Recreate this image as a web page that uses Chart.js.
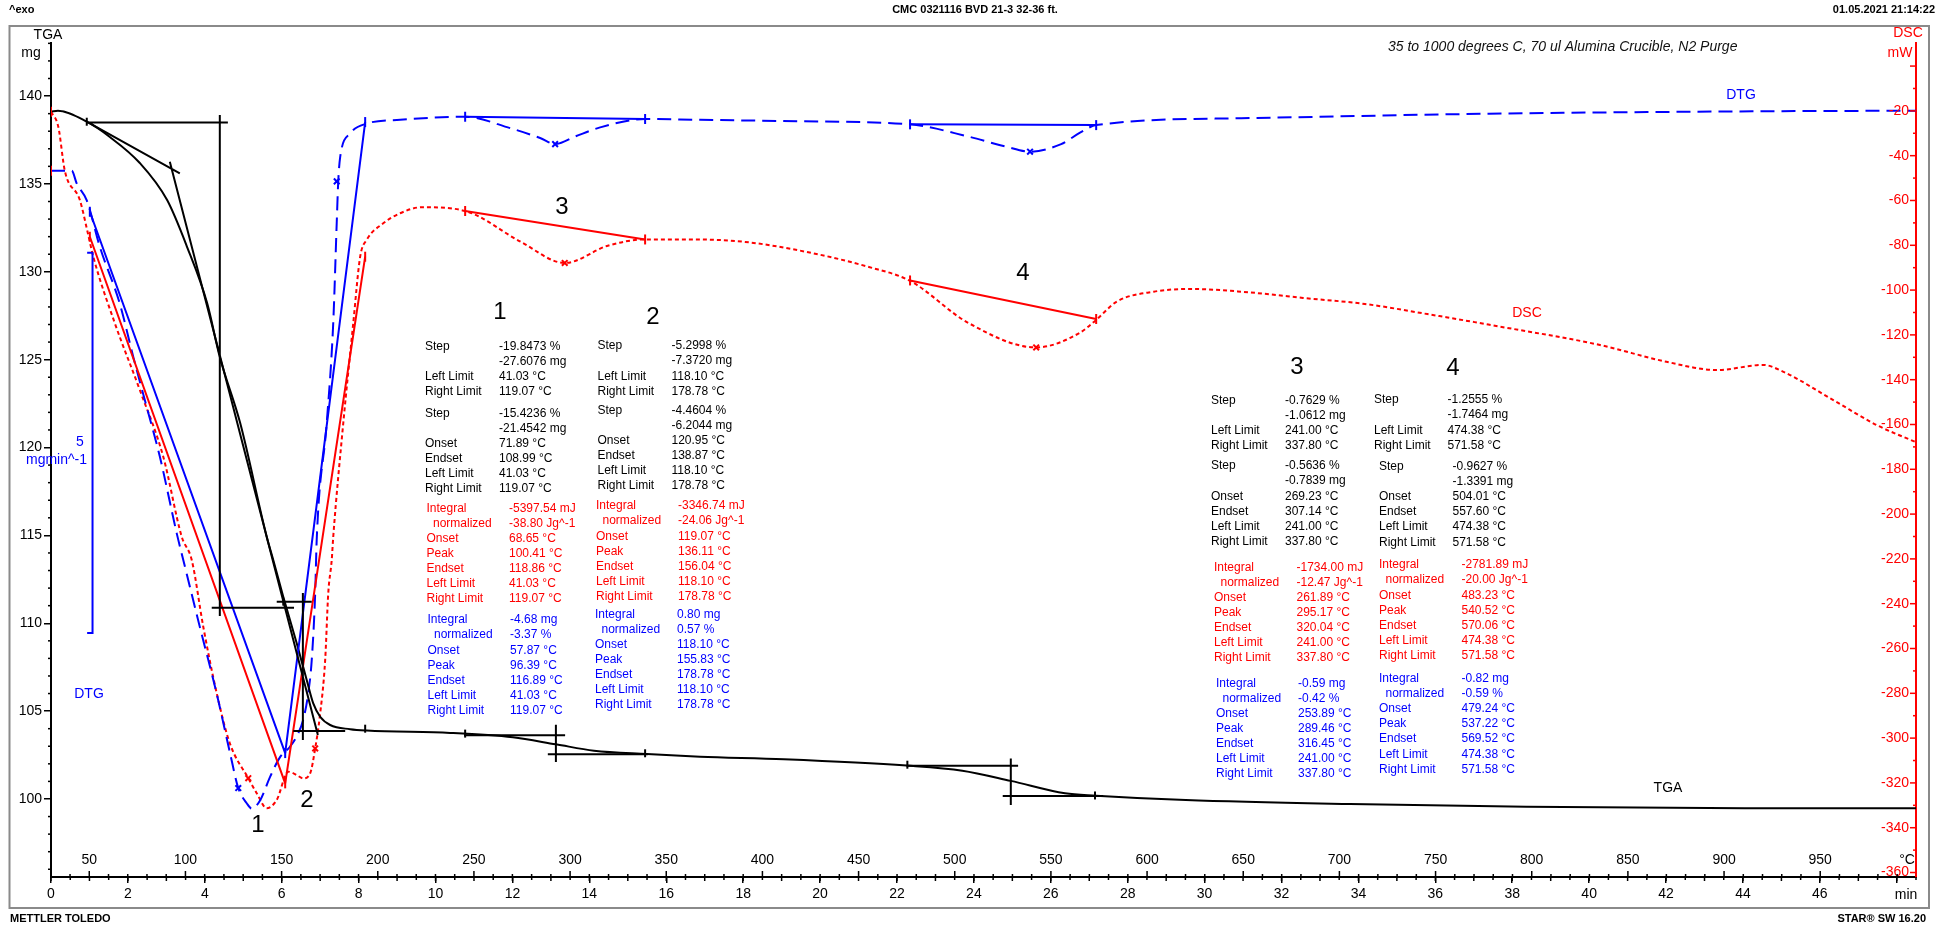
<!DOCTYPE html>
<html><head><meta charset="utf-8">
<style>html,body{margin:0;padding:0;background:#fff;overflow:hidden}canvas{display:block}</style>
<script src="https://cdn.jsdelivr.net/npm/chart.js@4.4.1/dist/chart.umd.min.js"></script>
</head><body>
<canvas id="c" width="1946" height="927" style="width:1946px;height:927px"></canvas>
<script>
// ---------- data (time in min) ----------
const tgaTime = [0,0.18,0.93,1.53,2.31,3.02,3.54,4.06,4.39,4.92,5.61,5.78,6.04,6.39,6.65,6.82,7.00,7.26,7.78,8.21,10.38,12.01,13.13,14.12,15.50,16.88,19.06,22.25,23.70,24.96,26.37,27.18,29.51,33.78,38.37,44.05,48.5];
const tgaMass = [139.11,139.16,138.54,137.67,136.19,134.08,131.41,128.22,125.15,121.39,114.92,113.60,111.51,108.86,106.77,105.44,104.68,104.21,103.97,103.89,103.76,103.51,103.11,102.75,102.56,102.41,102.26,101.90,101.61,101.03,100.32,100.19,99.94,99.71,99.56,99.47,99.47];

const dtgTime = [0,0.54,0.67,0.93,1.27,1.79,2.14,2.49,2.83,3.27,3.44,3.87,4.31,4.66,4.87,5.09,5.22,5.44,5.70,5.96,6.21,6.39,6.56,6.69,6.78,6.87,6.91,7.17,7.34,7.43,7.47,7.52,7.78,8.21,9.08,10.77,11.94,12.72,13.11,13.63,14.28,15.45,16.88,19.48,22.34,23.85,24.81,25.46,26.27,26.76,27.18,30.95,37.39,43.84,48.5];
const dtgRate = [-0.71,-0.71,-0.88,-1.10,-1.71,-2.46,-3.16,-3.82,-4.47,-5.48,-5.83,-6.71,-7.59,-8.38,-8.83,-9.03,-9.10,-8.99,-8.68,-8.42,-8.29,-8.15,-7.93,-7.58,-7.15,-6.27,-5.56,-4.03,-2.71,-1.40,-0.85,-0.53,-0.22,-0.09,-0.04,0.00,-0.15,-0.28,-0.36,-0.26,-0.14,-0.03,-0.04,-0.06,-0.10,-0.26,-0.39,-0.46,-0.36,-0.21,-0.11,-0.02,0.04,0.07,0.08];

const dscTime = [0,0.19,0.36,0.75,0.94,1.10,1.66,2.31,2.92,3.40,3.66,3.96,4.31,4.65,5.13,5.35,5.61,5.87,6.17,6.39,6.56,6.74,6.87,6.99,7.13,7.21,7.30,7.34,7.60,7.86,8.04,8.21,8.64,9.08,9.65,10.77,12.22,13.36,14.48,15.45,16.75,18.05,19.66,21.27,22.34,23.85,25.62,26.76,27.18,27.72,28.68,29.65,30.95,32.56,34.17,35.79,37.68,40.28,42.01,43.32,44.53,45.04,46.35,47.47,48.47];
const dscPower = [-20.4,-27.1,-46.8,-59.8,-73.2,-85.1,-114.8,-144.6,-174.4,-210.1,-220.5,-250.3,-280.0,-302.3,-317.9,-324.6,-331.3,-327.6,-315.0,-316.5,-318.0,-315.7,-304.6,-290.4,-265.1,-235.4,-220.5,-210.1,-159.5,-114.8,-85.1,-77.6,-70.2,-65.7,-63.0,-64.7,-78.5,-87.9,-80.2,-77.4,-77.4,-78.5,-83.0,-89.7,-95.9,-114.6,-125.6,-119.0,-113.3,-105.1,-100.7,-99.5,-100.7,-103.5,-106.2,-110.7,-116.3,-124.5,-132.0,-135.7,-133.4,-136.4,-149.1,-160.2,-167.7];

// tick labels
const timeLabels = [0,2,4,6,8,10,12,14,16,18,20,22,24,26,28,30,32,34,36,38,40,42,44,46];
const tempLabels = [50,100,150,200,250,300,350,400,450,500,550,600,650,700,750,800,850,900,950];
const massLabels = [100,105,110,115,120,125,130,135,140];
const dscLabels = [-20,-40,-60,-80,-100,-120,-140,-160,-180,-200,-220,-240,-260,-280,-300,-320,-340,-360];

// evaluation construction lines  [[t,v],[t,v]]
const tgaConstruction = [
  [[0.93,138.54],[3.35,135.60]],
  [[3.09,136.26],[6.94,103.64]],
  [[0.93,138.50],[4.60,138.50]],
  [[4.39,138.92],[4.39,110.41]],
  [[4.18,110.88],[6.32,110.88]],
  [[5.87,111.23],[6.78,111.23]],
  [[6.55,111.72],[6.55,103.36]],
  [[6.30,103.87],[7.65,103.87]],
  [[10.74,103.62],[13.37,103.62]],
  [[13.13,104.22],[13.13,102.11]],
  [[12.92,102.54],[15.52,102.54]],
  [[22.25,101.89],[25.15,101.89]],
  [[24.96,102.31],[24.96,99.66]],
  [[24.75,100.17],[27.36,100.17]]
];
const dscConstruction = [
  [[1.01,-76.2],[6.09,-320.2]],
  [[6.09,-320.2],[8.17,-85.1]],
  [[10.77,-64.7],[15.45,-77.4]],
  [[22.34,-95.7],[27.18,-112.9]]
];
const dtgConstruction = [
  [[1.01,-1.25],[6.09,-8.37]],
  [[6.09,-8.37],[8.17,-0.07]],
  [[10.77,0.00],[15.45,-0.03]],
  [[22.34,-0.10],[27.18,-0.11]]
];
const dtgScaleBar = [[0.94,-1.79],[1.08,-1.79],[1.08,-6.79],[0.94,-6.79]];

// markers
const dtgPeakT = [4.87,7.43,13.11,25.46], dtgPeakV = [-8.83,-0.85,-0.36,-0.46];
const dscPeakT = [5.13,6.87,13.36,25.62], dscPeakV = [-317.9,-304.6,-87.9,-125.6];
const dscLimitT = [0,1.01,6.09,8.17,10.77,15.45,22.34,27.18], dscLimitV = [-20.4,-76.2,-320.2,-85.1,-64.7,-77.4,-95.7,-112.9];
const dtgLimitT = [1.01,6.09,8.17,10.77,15.45,22.34,27.18], dtgLimitV = [-1.25,-8.37,-0.07,0.00,-0.03,-0.10,-0.11];
const dtgStartT = [0], dtgStartV = [-0.71];
const tgaLimitT = [0.93,6.04,8.17,10.77,15.45,22.27,27.15], tgaLimitV = [138.54,111.23,104.0,103.72,102.6,101.95,100.2];

// ---------- helpers ----------
const RED = '#ff0000', BLUE = '#0000ff', BLACK = '#000000';
const FF = '"Liberation Sans", Arial, Helvetica, sans-serif';
Chart.defaults.font.family = FF;
const pts = (xs, ys) => xs.map((t, i) => ({x: t, y: ys[i]}));
const segs = (list) => list.flatMap(s => [{x: s[0][0], y: s[0][1]}, {x: s[1][0], y: s[1][1]}, {x: s[1][0], y: null}]);
const poly = (list) => list.map(p => ({x: p[0], y: p[1]}));

// ---------- annotation tables ----------
const tables = [
 {lx:425, vx:499, y0:346.5, c:BLACK, rows:[['Step','-19.8473 %'],['','-27.6076 mg'],['Left Limit','41.03 °C'],['Right Limit','119.07 °C']]},
 {lx:425, vx:499, y0:413.5, c:BLACK, rows:[['Step','-15.4236 %'],['','-21.4542 mg'],['Onset','71.89 °C'],['Endset','108.99 °C'],['Left Limit','41.03 °C'],['Right Limit','119.07 °C']]},
 {lx:426.5, vx:509, y0:508.5, c:RED, rows:[['Integral','-5397.54 mJ'],['normalized','-38.80 Jg^-1'],['Onset','68.65 °C'],['Peak','100.41 °C'],['Endset','118.86 °C'],['Left Limit','41.03 °C'],['Right Limit','119.07 °C']]},
 {lx:427.5, vx:510, y0:620, c:BLUE, rows:[['Integral','-4.68 mg'],['normalized','-3.37 %'],['Onset','57.87 °C'],['Peak','96.39 °C'],['Endset','116.89 °C'],['Left Limit','41.03 °C'],['Right Limit','119.07 °C']]},
 {lx:597.5, vx:671.5, y0:346, c:BLACK, rows:[['Step','-5.2998 %'],['','-7.3720 mg'],['Left Limit','118.10 °C'],['Right Limit','178.78 °C']]},
 {lx:597.5, vx:671.5, y0:410.5, c:BLACK, rows:[['Step','-4.4604 %'],['','-6.2044 mg'],['Onset','120.95 °C'],['Endset','138.87 °C'],['Left Limit','118.10 °C'],['Right Limit','178.78 °C']]},
 {lx:596, vx:678, y0:506, c:RED, rows:[['Integral','-3346.74 mJ'],['normalized','-24.06 Jg^-1'],['Onset','119.07 °C'],['Peak','136.11 °C'],['Endset','156.04 °C'],['Left Limit','118.10 °C'],['Right Limit','178.78 °C']]},
 {lx:595, vx:677, y0:614.5, c:BLUE, rows:[['Integral','0.80 mg'],['normalized','0.57 %'],['Onset','118.10 °C'],['Peak','155.83 °C'],['Endset','178.78 °C'],['Left Limit','118.10 °C'],['Right Limit','178.78 °C']]},
 {lx:1211, vx:1285, y0:400.5, c:BLACK, rows:[['Step','-0.7629 %'],['','-1.0612 mg'],['Left Limit','241.00 °C'],['Right Limit','337.80 °C']]},
 {lx:1211, vx:1285, y0:466, c:BLACK, rows:[['Step','-0.5636 %'],['','-0.7839 mg'],['Onset','269.23 °C'],['Endset','307.14 °C'],['Left Limit','241.00 °C'],['Right Limit','337.80 °C']]},
 {lx:1214, vx:1296.5, y0:567.5, c:RED, rows:[['Integral','-1734.00 mJ'],['normalized','-12.47 Jg^-1'],['Onset','261.89 °C'],['Peak','295.17 °C'],['Endset','320.04 °C'],['Left Limit','241.00 °C'],['Right Limit','337.80 °C']]},
 {lx:1216, vx:1298, y0:683.3, c:BLUE, rows:[['Integral','-0.59 mg'],['normalized','-0.42 %'],['Onset','253.89 °C'],['Peak','289.46 °C'],['Endset','316.45 °C'],['Left Limit','241.00 °C'],['Right Limit','337.80 °C']]},
 {lx:1374, vx:1447.5, y0:400, c:BLACK, rows:[['Step','-1.2555 %'],['','-1.7464 mg'],['Left Limit','474.38 °C'],['Right Limit','571.58 °C']]},
 {lx:1379, vx:1452.5, y0:466.7, c:BLACK, rows:[['Step','-0.9627 %'],['','-1.3391 mg'],['Onset','504.01 °C'],['Endset','557.60 °C'],['Left Limit','474.38 °C'],['Right Limit','571.58 °C']]},
 {lx:1379, vx:1461.5, y0:565, c:RED, rows:[['Integral','-2781.89 mJ'],['normalized','-20.00 Jg^-1'],['Onset','483.23 °C'],['Peak','540.52 °C'],['Endset','570.06 °C'],['Left Limit','474.38 °C'],['Right Limit','571.58 °C']]},
 {lx:1379, vx:1461.5, y0:678.7, c:BLUE, rows:[['Integral','-0.82 mg'],['normalized','-0.59 %'],['Onset','479.24 °C'],['Peak','537.22 °C'],['Endset','569.52 °C'],['Left Limit','474.38 °C'],['Right Limit','571.58 °C']]}
];
const bigLabels = [['1',500,312],['2',653,317],['3',1297,367],['4',1453,368],['1',258,825],['2',307,800],['3',562,207],['4',1023,273]];

// ---------- plugin: frame, texts, extra ticks ----------
const decor = {
  id: 'decor',
  beforeDraw(chart) {
    const ctx = chart.ctx;
    ctx.save();
    ctx.fillStyle = '#fff'; ctx.fillRect(0, 0, chart.width, chart.height);
    ctx.strokeStyle = '#8a8a8a'; ctx.lineWidth = 2;
    ctx.strokeRect(9.5, 26, 1919.5, 882);
    ctx.restore();
  },
  afterDraw(chart) {
    const ctx = chart.ctx;
    const {x, xT, y, y2} = chart.scales;
    const a = chart.chartArea;
    const line = (x1, y1, x2, y2_) => { ctx.beginPath(); ctx.moveTo(x1, y1); ctx.lineTo(x2, y2_); ctx.stroke(); };
    const text = (s, px, py, color, font, align) => { ctx.font = font; ctx.fillStyle = color; ctx.textAlign = align || 'left'; ctx.textBaseline = 'middle'; ctx.fillText(s, px, py); };
    ctx.save();
    // header / footer
    const bold = 'bold 11px ' + FF;
    text('^exo', 9, 10, BLACK, bold);
    text('CMC 0321116 BVD 21-3 32-36 ft.', 975, 10, BLACK, bold, 'center');
    text('01.05.2021 21:14:22', 1935, 10, BLACK, bold, 'right');
    text('METTLER TOLEDO', 10, 919, BLACK, bold);
    text('STAR® SW 16.20', 1926, 919, BLACK, bold, 'right');
    text('35 to 1000 degrees C, 70 ul Alumina Crucible, N2 Purge', 1388, 47, '#111', 'italic 14px ' + FF);
    // axis titles
    const f14 = '14px ' + FF;
    text('TGA', 48, 35, BLACK, f14, 'center');
    text('mg', 31, 53, BLACK, f14, 'center');
    text('DSC', 1908, 33, RED, f14, 'center');
    text('mW', 1900, 53, RED, f14, 'center');
    // left minor ticks
    ctx.strokeStyle = BLACK; ctx.lineWidth = 1.5;
    for (let v = 96; v <= 143; v++) {
      if (v % 5 === 0) continue;
      const py = y.getPixelForValue(v);
      line(a.left - 3, py, a.left, py);
    }
    // right axis ticks + labels
    ctx.strokeStyle = RED;
    for (let i = 0; i <= 36; i++) {
      const v = -10 * i;
      const py = y2.getPixelForValue(v);
      const len = (i % 2 === 0) ? 6 : 3;
      line(a.right - len, py, a.right, py);
    }
    dscLabels.forEach(v => text(String(v), a.right - 7, y2.getPixelForValue(v), RED, f14, 'right'));
    // bottom: time minor ticks (down), temperature ticks (up) and labels
    ctx.strokeStyle = BLACK;
    for (let i = 0; i <= 97; i++) {
      const px = x.getPixelForValue(i * 0.5);
      line(px, a.bottom, px, a.bottom + (i % 2 === 0 ? 4 : 3));
    }
    for (let T = 40; T <= 990; T += 10) {
      const px = xT.getPixelForValue(T);
      line(px, a.bottom - (T % 50 === 0 ? 6 : 3), px, a.bottom);
    }
    tempLabels.forEach(T => text(String(T), xT.getPixelForValue(T), 860, BLACK, f14, 'center'));
    text('°C', 1907, 860, BLACK, f14, 'center');
    text('min', 1906, 895, BLACK, f14, 'center');
    // curve labels
    text('DTG', 1741, 95, BLUE, f14, 'center');
    text('DSC', 1527, 313, RED, f14, 'center');
    text('TGA', 1668, 788, BLACK, f14, 'center');
    text('DTG', 89, 694, BLUE, f14, 'center');
    text('5', 80, 442, BLUE, f14, 'center');
    text('mgmin^-1', 87, 460, BLUE, f14, 'right');
    // big step numbers
    bigLabels.forEach(b => text(b[0], b[1], b[2], BLACK, '24px ' + FF, 'center'));
    // evaluation tables
    const f12 = '12px ' + FF;
    tables.forEach(tb => {
      tb.rows.forEach((r, i) => {
        const py = tb.y0 + i * 15.1;
        const lx = r[0] === 'normalized' ? tb.lx + 6.5 : tb.lx;
        if (r[0]) text(r[0], lx, py, tb.c, f12);
        text(r[1], tb.vx, py, tb.c, f12);
      });
    });
    ctx.restore();
  }
};

// ---------- datasets ----------
const base = {pointRadius: 0, tension: 0, xAxisID: 'x'};
const datasets = [
  {...base, label: 'DTG peaks', data: pts(dtgPeakT, dtgPeakV), yAxisID: 'y3', showLine: false, pointStyle: 'crossRot', pointRadius: 4, pointBorderWidth: 2, borderColor: BLUE, pointBorderColor: BLUE},
  {...base, label: 'DSC peaks', data: pts(dscPeakT, dscPeakV), yAxisID: 'y2', showLine: false, pointStyle: 'crossRot', pointRadius: 4, pointBorderWidth: 2, borderColor: RED, pointBorderColor: RED},
  {...base, label: 'DSC limits', data: pts(dscLimitT, dscLimitV), yAxisID: 'y2', showLine: false, pointStyle: 'line', rotation: 90, pointRadius: 5, pointBorderWidth: 2, pointBorderColor: RED},
  {...base, label: 'DTG start', data: pts(dtgStartT, dtgStartV), yAxisID: 'y3', showLine: false, pointStyle: 'line', rotation: 90, pointRadius: 5, pointBorderWidth: 2, pointBorderColor: RED},
  {...base, label: 'DTG limits', data: pts(dtgLimitT, dtgLimitV), yAxisID: 'y3', showLine: false, pointStyle: 'line', rotation: 90, pointRadius: 5, pointBorderWidth: 2, pointBorderColor: BLUE},
  {...base, label: 'TGA limits', data: pts(tgaLimitT, tgaLimitV), yAxisID: 'y', showLine: false, pointStyle: 'line', rotation: 90, pointRadius: 4, pointBorderWidth: 2, pointBorderColor: BLACK},
  {...base, label: 'TGA steps', data: segs(tgaConstruction), yAxisID: 'y', borderColor: BLACK, borderWidth: 2, spanGaps: false},
  {...base, label: 'DSC integrals', data: segs(dscConstruction), yAxisID: 'y2', borderColor: RED, borderWidth: 2, spanGaps: false},
  {...base, label: 'DTG integrals', data: segs(dtgConstruction), yAxisID: 'y3', borderColor: BLUE, borderWidth: 2, spanGaps: false},
  {...base, label: 'DTG scale', data: poly(dtgScaleBar), yAxisID: 'y3', borderColor: BLUE, borderWidth: 2},
  {...base, label: 'TGA', data: pts(tgaTime, tgaMass), yAxisID: 'y', borderColor: BLACK, borderWidth: 2, cubicInterpolationMode: 'monotone'},
  {...base, label: 'DTG', data: pts(dtgTime, dtgRate), yAxisID: 'y3', borderColor: BLUE, borderWidth: 2, borderDash: [14, 7], cubicInterpolationMode: 'monotone'},
  {...base, label: 'DSC', data: pts(dscTime, dscPower), yAxisID: 'y2', borderColor: RED, borderWidth: 2, borderDash: [4, 3], cubicInterpolationMode: 'monotone'}
];

new Chart(document.getElementById('c'), {
  type: 'line',
  data: {datasets},
  plugins: [decor],
  options: {
    responsive: false, animation: false, devicePixelRatio: 1,
    layout: {padding: {left: 8, right: 30, top: 43, bottom: 0}},
    plugins: {legend: {display: false}, tooltip: {enabled: false}},
    scales: {
      x: {
        type: 'linear', position: 'bottom', min: 0, max: 48.5,
        afterFit: s => { s.height = 50; },
        border: {display: true, color: BLACK, width: 2},
        grid: {drawOnChartArea: false, drawTicks: true, tickLength: 6, color: BLACK, lineWidth: 1.5},
        ticks: {stepSize: 2, includeBounds: false, autoSkip: false, maxRotation: 0, padding: 3, color: BLACK,
                font: {size: 14, family: FF},
                callback: v => timeLabels.includes(v) ? String(v) : ''}
      },
      xT: {type: 'linear', position: 'bottom', min: 30.1, max: 999.8, display: false},
      y: {
        type: 'linear', position: 'left', min: 95.56, max: 143.02,
        afterFit: s => { s.width = 43; },
        border: {display: true, color: BLACK, width: 2},
        grid: {drawOnChartArea: false, drawTicks: true, tickLength: 7, color: BLACK, lineWidth: 1.5},
        ticks: {stepSize: 5, includeBounds: false, padding: 2, color: BLACK, font: {size: 14, family: FF},
                callback: v => massLabels.includes(v) ? String(v) : ''}
      },
      y2: {
        type: 'linear', position: 'right', min: -362, max: 10.3,
        afterFit: s => { s.width = 0; },
        border: {display: true, color: RED, width: 2},
        grid: {drawOnChartArea: false, drawTicks: false},
        ticks: {display: false}
      },
      y3: {type: 'linear', position: 'left', min: -10, max: 0.97, display: false}
    }
  }
});
</script>
</body></html>
